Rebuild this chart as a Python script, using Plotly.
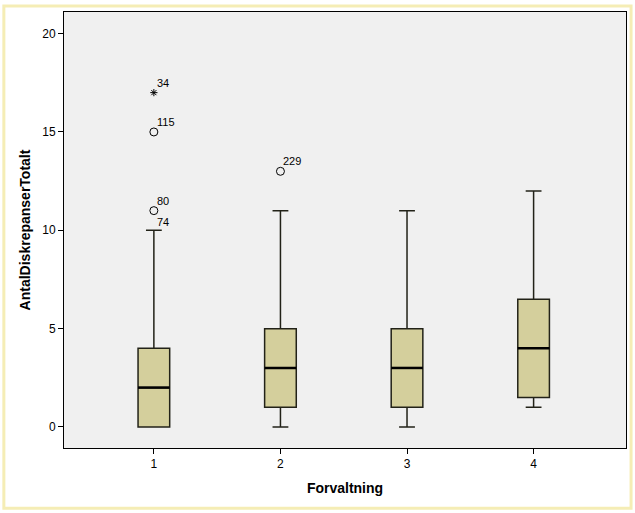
import plotly.graph_objects as go

# boxplot summary
groups = [1, 2, 3, 4]
q1 = [0, 1, 1, 1.5]
medians = [2, 3, 3, 4]
q3 = [4, 5, 5, 6.5]
lower_whisk = [0, 0, 0, 1]
upper_whisk = [10, 11, 11, 12]

# outliers (circles) and extremes (stars) with case labels
out_x = [1, 1, 2]
out_y = [11, 15, 13]
ext_x = [1]
ext_y = [17]
label_x = [1, 1, 1, 1, 2]
label_y = [17, 15, 11, 11, 13]
label_txt = ["34", "115", "80", "74", "229"]
label_shift = [10, 10, 10, -11, 10]

fig = go.Figure()

fig.add_trace(go.Box(
    x=groups, q1=q1, median=medians, q3=q3,
    lowerfence=lower_whisk, upperfence=upper_whisk,
    fillcolor="#D4CF9C", line=dict(color="#222218", width=1.5),
    width=0.25, whiskerwidth=0.5, boxpoints=False, showlegend=False,
))

# thick black median lines
for g, m in zip(groups, medians):
    fig.add_trace(go.Scatter(
        x=[g - 0.125, g + 0.125], y=[m, m], mode="lines",
        line=dict(color="black", width=2.5), showlegend=False, hoverinfo="skip",
    ))

fig.add_trace(go.Scatter(
    x=out_x, y=out_y, mode="markers",
    marker=dict(symbol="circle-open", size=8, color="black", line=dict(width=1)),
    showlegend=False,
))
fig.add_trace(go.Scatter(
    x=ext_x, y=ext_y, mode="markers",
    marker=dict(symbol="asterisk-open", size=6, color="black", line=dict(width=1)),
    showlegend=False,
))

for lx, ly, t, s in zip(label_x, label_y, label_txt, label_shift):
    fig.add_annotation(x=lx, y=ly, text=t, showarrow=False, xanchor="left",
                       xshift=1, yshift=s, font=dict(size=11, color="black"))

# pale yellow outer frame
fig.add_shape(type="rect", xref="paper", yref="paper",
              x0=-0.107, x1=1.009, y0=-0.138, y1=1.014,
              line=dict(color="#F5EDB5", width=3))

fig.update_layout(
    width=635, height=513,
    margin=dict(l=64, r=9, t=12, b=65),
    paper_bgcolor="white", plot_bgcolor="#F0F0F0",
    font=dict(family="Liberation Sans, Arial", size=12, color="black"),
)
fig.update_xaxes(
    range=[0.29, 4.73], tickvals=groups, ticktext=[str(g) for g in groups],
    ticks="outside", ticklen=5, tickcolor="black",
    showline=True, linecolor="black", linewidth=1, mirror=True,
    showgrid=False, zeroline=False,
    title=dict(text="<b>Forvaltning</b>", font=dict(size=14), standoff=12),
)
fig.update_yaxes(
    range=[-1.07, 21.1], tickvals=[0, 5, 10, 15, 20],
    ticks="outside", ticklen=5, tickcolor="black",
    showline=True, linecolor="black", linewidth=1, mirror=True,
    showgrid=False, zeroline=False,
    title=dict(text="<b>AntalDiskrepanserTotalt</b>", font=dict(size=14), standoff=8),
)

fig.write_html("out.html", config={"displayModeBar": False},
               post_script="document.body.style.margin='0px';")
